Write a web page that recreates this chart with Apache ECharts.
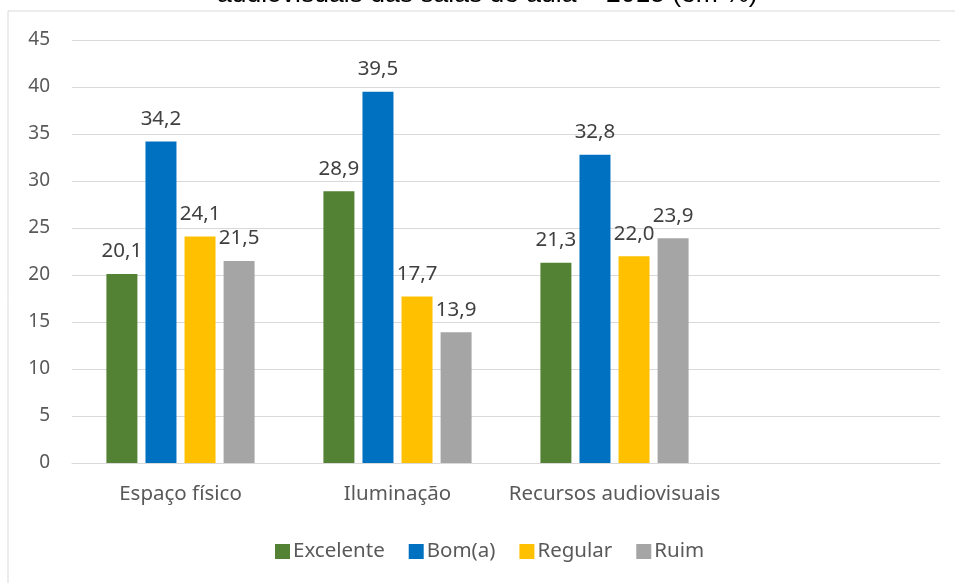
<!DOCTYPE html>
<html><head><meta charset="utf-8">
<script src="https://cdn.jsdelivr.net/npm/echarts@6/dist/echarts.min.js"></script>
<style>html,body{margin:0;padding:0;background:#fff}#c{width:955px;height:583px}</style>
</head><body><div id="c"></div>
<script>
const categories = ['Espaço físico', 'Iluminação', 'Recursos audiovisuais', ''];
const seriesNames = ['Excelente', 'Bom(a)', 'Regular', 'Ruim'];
const excelente = [20.1, 28.9, 21.3, null];
const bom = [34.2, 39.5, 32.8, null];
const regular = [24.1, 17.7, 22.0, null];
const ruim = [21.5, 13.9, 23.9, null];
const yTicks = [0, 5, 10, 15, 20, 25, 30, 35, 40, 45];
const colors = ['#548235', '#0070C0', '#FFC000', '#A5A5A5'];
const font = 'Noto Sans';

const chart = echarts.init(document.getElementById('c'));
const values = [excelente, bom, regular, ruim];
chart.setOption({
  animation: false,
  title: {
    text: 'audiovisuais das salas de aula – 2015 (em %)',
    left: 212, top: -24,
    textStyle: {fontFamily: 'Liberation Sans', fontSize: 26.5, fontWeight: 'normal', color: '#000'}
  },
  graphic: [{type: 'rect', shape: {x: 8, y: 11, width: 960, height: 580},
    style: {fill: 'none', stroke: '#d9d9d9', lineWidth: 1}, silent: true, z: -1}],
  legend: {
    data: seriesNames, top: 536, left: 270, itemWidth: 15, itemHeight: 15, itemGap: 24,
    icon: 'rect',
    textStyle: {fontFamily: font, fontSize: 20.5, color: '#595959', padding: [0, 0, 0, -2]}
  },
  grid: {left: 72, right: 15, top: 40, bottom: 120},
  xAxis: {
    type: 'category', data: categories,
    axisTick: {show: false},
    axisLine: {lineStyle: {color: '#d9d9d9', width: 1}},
    axisLabel: {interval: 0, fontFamily: font, fontSize: 20.5, color: '#595959', margin: 21}
  },
  yAxis: {
    type: 'value', min: 0, max: 45, interval: 5,
    axisLabel: {fontFamily: font, fontSize: 19, color: '#595959', margin: 22},
    splitLine: {lineStyle: {color: '#d9d9d9', width: 1}},
    axisLine: {show: false}, axisTick: {show: false}
  },
  series: values.map((v, i) => ({
    name: seriesNames[i], type: 'bar', data: v,
    barWidth: 31, barGap: '26%',
    itemStyle: {color: colors[i]},
    label: {show: true, position: 'top', distance: 12, fontFamily: font, fontSize: 20.5, color: '#404040',
      formatter: p => p.value == null ? '' : p.value.toFixed(1).replace('.', ',')}
  }))
});
</script></body></html>
